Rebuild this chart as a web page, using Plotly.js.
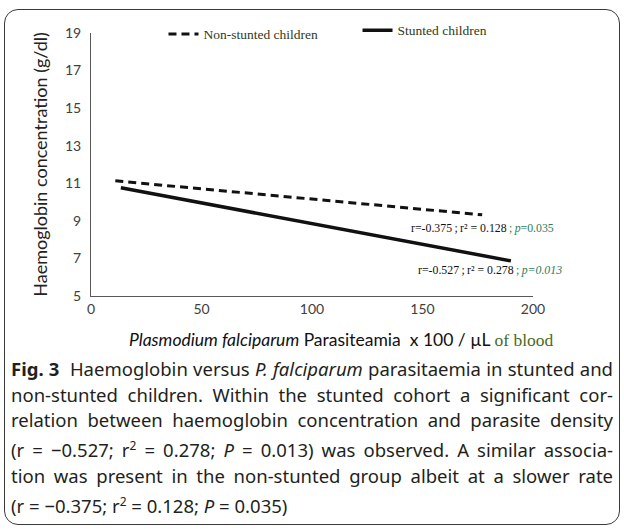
<!DOCTYPE html>
<html>
<head>
<meta charset="utf-8">
<script src="https://cdn.plot.ly/plotly-3.0.1.min.js"></script>
<style>
  html, body { margin:0; padding:0; background:#fff; }
  #wrap { position:relative; width:624px; height:529px; overflow:hidden; }
  #box { position:absolute; left:4px; top:9px; width:616px; height:516px;
         border:1.5px solid #3a3a3a; border-radius:14px; box-sizing:border-box; }
  #chart { position:absolute; left:0; top:0; width:624px; height:360px; }
  #cap { position:absolute; left:11px; top:356px; width:602px;
         font-family:"Noto Sans", sans-serif; font-size:18.5px; color:#231f20;
         line-height:25.7px; letter-spacing:0; font-variant-ligatures:none; }
  #cap div { text-align:justify; text-align-last:justify; white-space:nowrap; }
  #cap div.last { text-align-last:left; }
  #cap b { font-size:18.5px; }
</style>
</head>
<body>
<div id="wrap">
  <div id="box"></div>
  <div id="chart"></div>
  <div id="cap">
    <div><b>Fig. 3</b>&nbsp; Haemoglobin versus <i>P. falciparum</i> parasitaemia in stunted and</div>
    <div>non-stunted children. Within the stunted cohort a significant cor-</div>
    <div>relation between haemoglobin concentration and parasite density</div>
    <div>(r = −0.527; r<sup style="font-size:12px">2</sup> = 0.278; <i>P</i> = 0.013) was observed. A similar associa-</div>
    <div>tion was present in the non-stunted group albeit at a slower rate</div>
    <div class="last">(r = −0.375; r<sup style="font-size:12px">2</sup> = 0.128; <i>P</i> = 0.035)</div>
  </div>
</div>
<script>
// Series (trend lines)
const seriesNames = ["Non-stunted children", "Stunted children"];
const nonStuntedX = [11, 177];
const nonStuntedY = [11.13, 9.32];
const stuntedX = [13.5, 190];
const stuntedY = [10.76, 6.87];
const yTicks = [5, 7, 9, 11, 13, 15, 17, 19];
const xTicks = [0, 50, 100, 150, 200];
const statNon = {r: "-0.375", r2: "0.128", p: "0.035"};
const statSt = {r: "-0.527", r2: "0.278", p: "0.013"};

const serif = "Liberation Serif, Times New Roman, serif";
const sans = "Lato, Open Sans, sans-serif";

const traces = [
  {x: nonStuntedX, y: nonStuntedY, name: seriesNames[0], mode: "lines", legend: "legend",
   line: {color: "#111", width: 3, dash: "8px,5px"}},
  {x: stuntedX, y: stuntedY, name: seriesNames[1], mode: "lines", legend: "legend2",
   line: {color: "#111", width: 3.5}}
];

const legFont = {family: serif, size: 13.5, color: "#2f3a1a"};
const layout = {
  width: 624, height: 360,
  margin: {l: 91, r: 91, t: 33, b: 64},
  paper_bgcolor: "rgba(0,0,0,0)", plot_bgcolor: "rgba(0,0,0,0)",
  showlegend: true,
  legend: {x: 0.164, y: 0.995, xanchor: "left", yanchor: "middle",
           font: legFont, itemwidth: 30, bgcolor: "rgba(0,0,0,0)"},
  legend2: {x: 0.603, y: 1.01, xanchor: "left", yanchor: "middle",
           font: legFont, itemwidth: 30, bgcolor: "rgba(0,0,0,0)"},
  xaxis: {range: [0, 200], tickvals: xTicks, showgrid: false, zeroline: false,
          showline: true, linecolor: "#595959", linewidth: 1, ticks: "",
          tickfont: {family: sans, size: 14, color: "#404040"}},
  yaxis: {range: [5, 19], tickvals: yTicks, showgrid: false, zeroline: false,
          showline: true, linecolor: "#595959", linewidth: 1, ticks: "",
          ticklabelstandoff: 6,
          tickfont: {family: sans, size: 14, color: "#404040"},
          title: {text: "Haemoglobin concentration (g/dl)", standoff: 12,
                  font: {family: sans, size: 18, color: "#222"}}},
  annotations: [
    {xref: "paper", yref: "paper", x: 0.566, y: -0.165, xanchor: "center", yanchor: "middle",
     showarrow: false, font: {family: sans, size: 17.5, color: "#111"},
     text: "<i>Plasmodium falciparum</i> Parasiteamia  x 100 / µL <span style=\"font-family:Liberation Serif;color:#4a6a22\">of blood</span>"},
    {xref: "x", yref: "y", x: 144, y: 8.62, xanchor: "left", yanchor: "middle",
     showarrow: false, font: {family: serif, size: 11.8, color: "#111"},
     text: "r=" + statNon.r + "\u2009;\u2009r² = " + statNon.r2 + "\u2009<span style=\"color:#2e7d5b\">;\u2009<i>p</i>=" + statNon.p + "</span>"},
    {xref: "x", yref: "y", x: 147, y: 6.4, xanchor: "left", yanchor: "middle",
     showarrow: false, font: {family: serif, size: 11.8, color: "#111"},
     text: "r=" + statSt.r + "\u2009;\u2009r² = " + statSt.r2 + "\u2009<span style=\"color:#2e7d5b\">;\u2009<i>p=" + statSt.p + "</i></span>"}
  ]
};

Plotly.newPlot("chart", traces, layout, {displayModeBar: false, staticPlot: true});
</script>
</body>
</html>
